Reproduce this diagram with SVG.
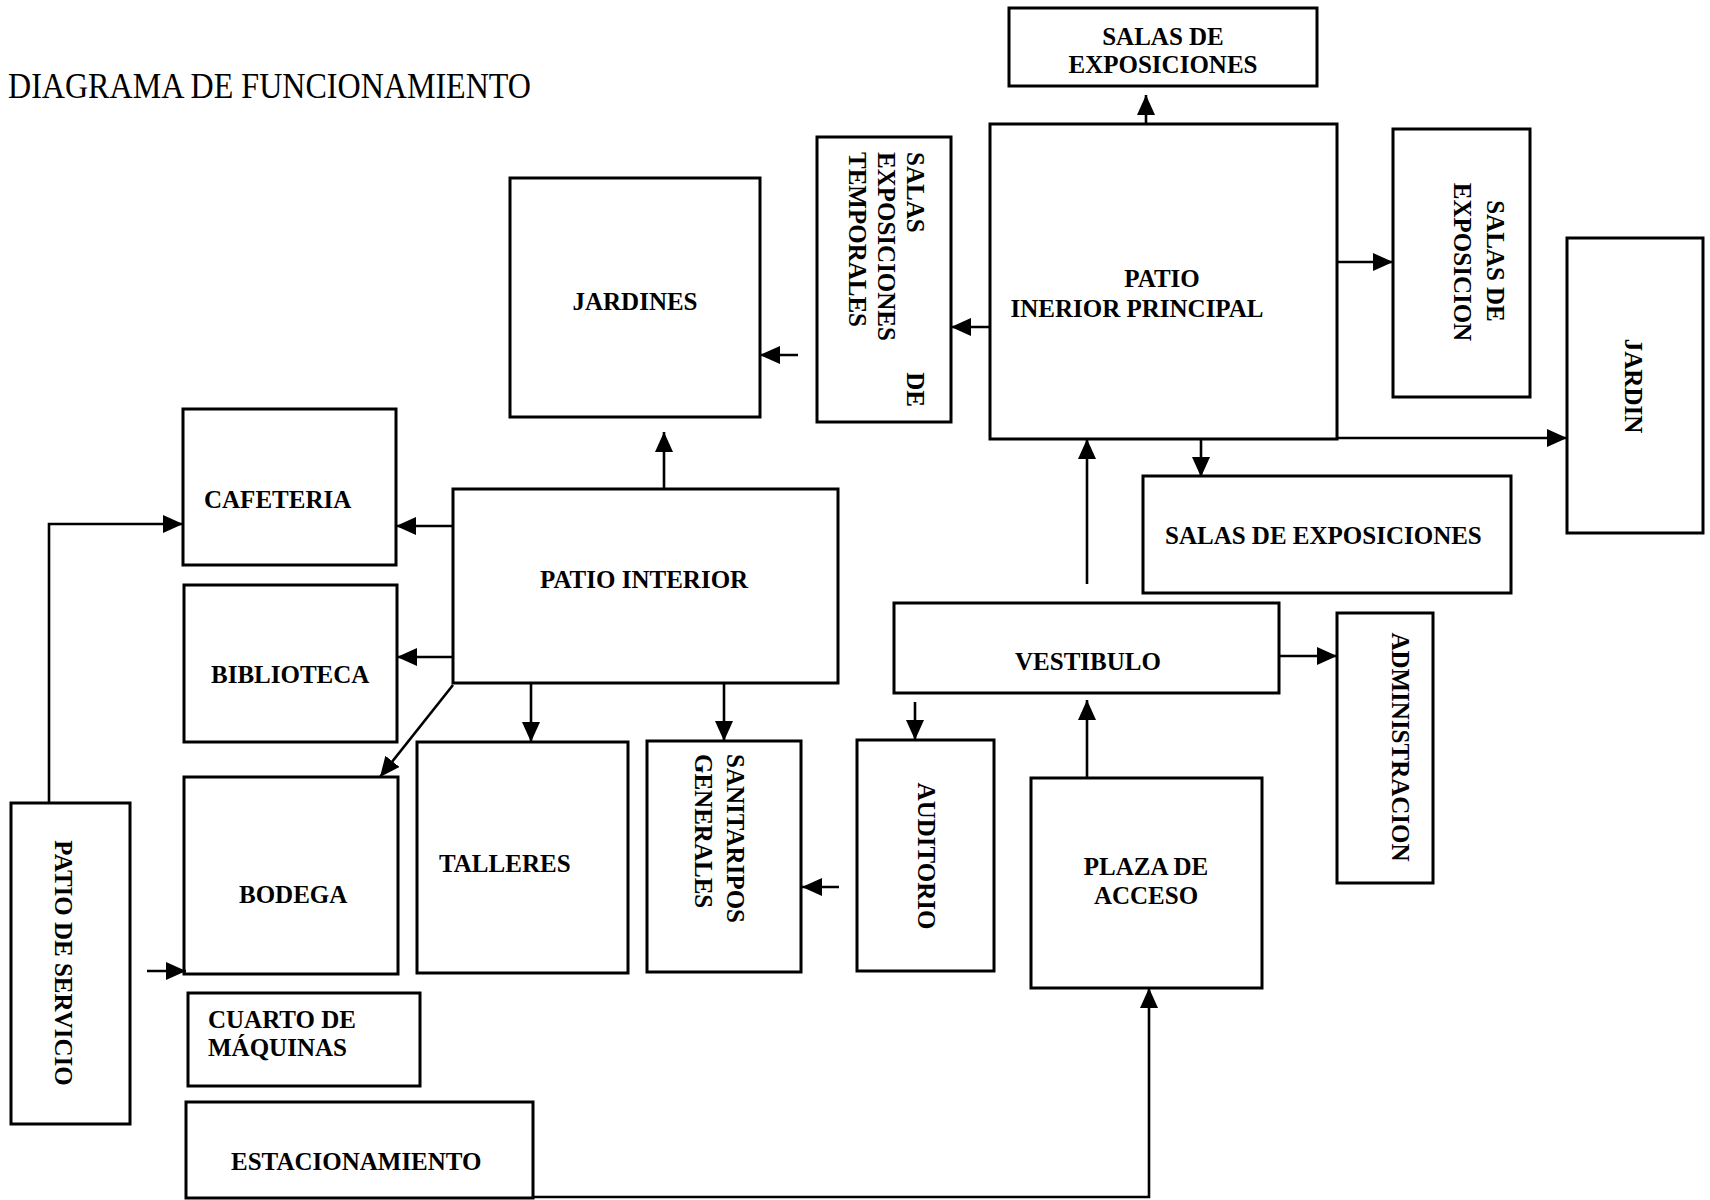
<svg xmlns="http://www.w3.org/2000/svg" width="1710" height="1200" viewBox="0 0 1710 1200">
<style>
.box{fill:#fff;stroke:#000;stroke-width:3}
.t{font-family:"Liberation Serif","Times New Roman",serif;font-size:25px;font-weight:bold;fill:#000}
.c{text-anchor:middle}
.title{font-family:"Liberation Serif","Times New Roman",serif;font-size:35px;fill:#000}
.ln{fill:none;stroke:#000;stroke-width:2.6;marker-end:url(#ah)}
</style>
<defs>
<marker id="ah" markerUnits="userSpaceOnUse" viewBox="0 0 20 18" markerWidth="20" markerHeight="18" refX="20" refY="9" orient="auto">
<path d="M0,0 L20,9 L0,18 z" fill="#000"/>
</marker>
</defs>
<rect width="1710" height="1200" fill="#fff"/>
<text class="title" x="8" y="98" textLength="523" lengthAdjust="spacingAndGlyphs">DIAGRAMA DE FUNCIONAMIENTO</text>

<g id="salas-top"><rect class="box" x="1009" y="8" width="308" height="78"/>
<text class="t c" x="1163" y="45">SALAS DE</text><text class="t c" x="1163" y="73">EXPOSICIONES</text></g>

<g id="patio-principal"><rect class="box" x="990" y="124" width="347" height="315"/>
<text class="t c" x="1162" y="287">PATIO</text><text class="t c" x="1137" y="317">INERIOR PRINCIPAL</text></g>

<g id="salas-temporales"><rect class="box" x="817" y="137" width="134" height="285"/>
<text class="t" transform="translate(907,152) rotate(90)">SALAS</text>
<text class="t" text-anchor="end" transform="translate(907,407) rotate(90)">DE</text>
<text class="t" transform="translate(878,152) rotate(90)">EXPOSICIONES</text>
<text class="t" transform="translate(849,152) rotate(90)">TEMPORALES</text></g>

<g id="salas-exposicion"><rect class="box" x="1393" y="129" width="137" height="268"/>
<text class="t c" transform="translate(1487,261) rotate(90)">SALAS DE</text>
<text class="t c" transform="translate(1454,262) rotate(90)">EXPOSICION</text></g>

<g id="jardin"><rect class="box" x="1567" y="238" width="136" height="295"/>
<text class="t c" transform="translate(1625,386) rotate(90)">JARDIN</text></g>

<g id="jardines"><rect class="box" x="510" y="178" width="250" height="239"/>
<text class="t c" x="635" y="310">JARDINES</text></g>

<g id="salas-lower"><rect class="box" x="1143" y="476" width="368" height="117"/>
<text class="t" x="1165" y="544">SALAS DE EXPOSICIONES</text></g>

<g id="cafeteria"><rect class="box" x="183" y="409" width="213" height="156"/>
<text class="t" x="204" y="508">CAFETERIA</text></g>

<g id="biblioteca"><rect class="box" x="184" y="585" width="213" height="157"/>
<text class="t" x="211" y="683">BIBLIOTECA</text></g>

<g id="patio-interior"><rect class="box" x="453" y="489" width="385" height="194"/>
<text class="t" x="540" y="588">PATIO INTERIOR</text></g>

<g id="vestibulo"><rect class="box" x="894" y="603" width="385" height="90"/>
<text class="t" x="1015" y="670">VESTIBULO</text></g>

<g id="administracion"><rect class="box" x="1337" y="613" width="96" height="270"/>
<text class="t c" transform="translate(1392,747) rotate(90)">ADMINISTRACION</text></g>

<g id="auditorio"><rect class="box" x="857" y="740" width="137" height="231"/>
<text class="t c" transform="translate(918,856) rotate(90)">AUDITORIO</text></g>

<g id="plaza"><rect class="box" x="1031" y="778" width="231" height="210"/>
<text class="t c" x="1146" y="875">PLAZA DE</text><text class="t c" x="1146" y="904">ACCESO</text></g>

<g id="sanitarios"><rect class="box" x="647" y="741" width="154" height="231"/>
<text class="t" transform="translate(727,754) rotate(90)">SANITARIPOS</text>
<text class="t" transform="translate(695,754) rotate(90)">GENERALES</text></g>

<g id="talleres"><rect class="box" x="417" y="742" width="211" height="231"/>
<text class="t" x="439" y="872">TALLERES</text></g>

<g id="bodega"><rect class="box" x="184" y="777" width="214" height="197"/>
<text class="t" x="239" y="903">BODEGA</text></g>

<g id="cuarto"><rect class="box" x="188" y="993" width="232" height="93"/>
<text class="t" x="208" y="1028">CUARTO DE</text><text class="t" x="208" y="1056">MÁQUINAS</text></g>

<g id="estacionamiento"><rect class="box" x="186" y="1102" width="347" height="96"/>
<text class="t" x="231" y="1170">ESTACIONAMIENTO</text></g>

<g id="patio-servicio"><rect class="box" x="11" y="803" width="119" height="321"/>
<text class="t c" transform="translate(55,963) rotate(90)">PATIO DE SERVICIO</text></g>

<g id="connectors">
<path class="ln" d="M664,489 V432"/>
<path class="ln" d="M453,526 H396"/>
<path class="ln" d="M453,657 H397"/>
<path class="ln" d="M453,685 L380,777"/>
<path class="ln" d="M531,683 V742"/>
<path class="ln" d="M724,683 V741"/>
<path class="ln" d="M798,355 H760"/>
<path class="ln" d="M1146,124 V95"/>
<path class="ln" d="M990,327 H951"/>
<path class="ln" d="M1337,262 H1393"/>
<path class="ln" d="M1337,438 H1567"/>
<path class="ln" d="M1201,439 V477"/>
<path class="ln" d="M1087,584 V439"/>
<path class="ln" d="M1279,656 H1337"/>
<path class="ln" d="M915,702 V740"/>
<path class="ln" d="M1087,778 V700"/>
<path class="ln" d="M839,887 H802"/>
<path class="ln" d="M49,803 V524 H183"/>
<path class="ln" d="M147,971 H186"/>
<path class="ln" d="M533,1197 H1149 V988"/>
</g>
</svg>
